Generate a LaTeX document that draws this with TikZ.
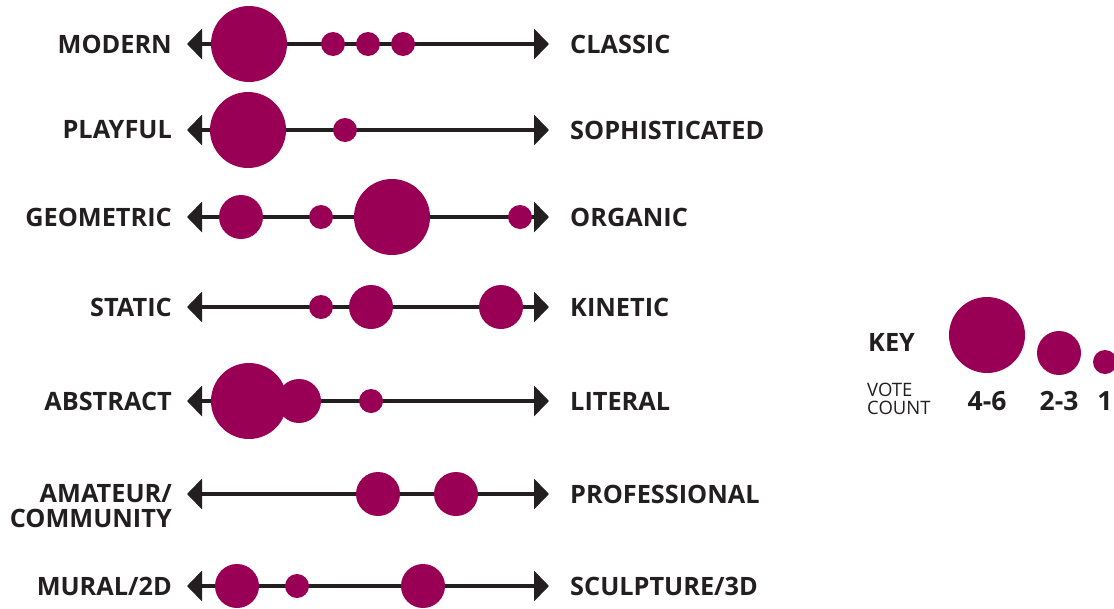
\documentclass[tikz,border=0pt]{standalone}
\usepackage{fontspec}
\setmainfont{Open Sans}
\usetikzlibrary{arrows.meta}
\definecolor{vote}{RGB}{153,0,85}
\definecolor{axis}{RGB}{35,31,32}

\begin{document}
\begin{tikzpicture}[x=1pt,y=-1pt,
    scale line/.style={draw=axis,line width=4pt,{Triangle[width=30pt,length=15pt]}-{Triangle[width=30pt,length=15pt]}},
    votebig/.style={circle,fill=vote,inner sep=0pt,minimum size=76pt},
    votemid/.style={circle,fill=vote,inner sep=0pt,minimum size=44pt},
    votelow/.style={circle,fill=vote,inner sep=0pt,minimum size=24pt},
    leftlbl/.style={anchor=east,inner sep=0pt,align=right,text=axis,font=\fontsize{25.3}{25}\selectfont\bfseries},
    rightlbl/.style={anchor=west,inner sep=0pt,text=axis,font=\fontsize{25.3}{25}\selectfont\bfseries},
    keylbl/.style={inner sep=0pt,text=axis,font=\fontsize{26.5}{25}\selectfont\bfseries}]
		\useasboundingbox (0,0) rectangle (1114,608);

		% modern / classic
		\node[leftlbl] (modern) at (172,44) {MODERN};
		\node[rightlbl] (classic) at (570,44) {CLASSIC};
		\coordinate (l1) at (187,44);
		\coordinate (r1) at (549,44);
		\draw[scale line] (l1) -- (r1);
		\node[votebig] (m1a) at (249,44) {};
		\node[votelow] (m1b) at (333,44) {};
		\node[votelow] (m1c) at (368,44) {};
		\node[votelow] (m1d) at (403,44) {};

		% playful / sophisticated
		\node[leftlbl] (playful) at (172,130) {PLAYFUL};
		\node[rightlbl] (sophis) at (570,130) {SOPHISTICATED};
		\coordinate (l2) at (187,130);
		\coordinate (r2) at (549,130);
		\draw[scale line] (l2) -- (r2);
		\node[votebig] (m2a) at (248,130) {};
		\node[votelow] (m2b) at (345,130) {};

		% geometric / organic
		\node[leftlbl] (geom) at (172,217) {GEOMETRIC};
		\node[rightlbl] (organic) at (570,217) {ORGANIC};
		\coordinate (l3) at (187,217);
		\coordinate (r3) at (549,217);
		\draw[scale line] (l3) -- (r3);
		\node[votemid] (m3a) at (241,217) {};
		\node[votelow] (m3b) at (321,217) {};
		\node[votebig] (m3c) at (392,217) {};
		\node[votelow] (m3d) at (520,217) {};

		% static / kinetic
		\node[leftlbl] (static) at (172,307) {STATIC};
		\node[rightlbl] (kinetic) at (570,307) {KINETIC};
		\coordinate (l4) at (187,307);
		\coordinate (r4) at (549,307);
		\draw[scale line] (l4) -- (r4);
		\node[votelow] (m4a) at (321,307) {};
		\node[votemid] (m4b) at (371,307) {};
		\node[votemid] (m4c) at (501,307) {};

		% abstract / literal
		\node[leftlbl] (abstract) at (172,401) {ABSTRACT};
		\node[rightlbl] (literal) at (570,401) {LITERAL};
		\coordinate (l5) at (187,401);
		\coordinate (r5) at (549,401);
		\draw[scale line] (l5) -- (r5);
		\node[votebig] (m5a) at (249,401) {};
		\node[votemid] (m5b) at (299,401) {};
		\node[votelow] (m5c) at (371,401) {};

		% amateur / professional
		\node[leftlbl] (amateur) at (172,506) {AMATEUR/\\COMMUNITY};
		\node[rightlbl] (prof) at (570,494) {PROFESSIONAL};
		\coordinate (l6) at (187,494);
		\coordinate (r6) at (549,494);
		\draw[scale line] (l6) -- (r6);
		\node[votemid] (m6a) at (378,494) {};
		\node[votemid] (m6b) at (456,494) {};

		% mural / sculpture
		\node[leftlbl] (mural) at (172,586) {MURAL/2D};
		\node[rightlbl] (sculpt) at (570,586) {SCULPTURE/3D};
		\coordinate (l7) at (187,586);
		\coordinate (r7) at (549,586);
		\draw[scale line] (l7) -- (r7);
		\node[votemid] (m7a) at (237,586) {};
		\node[votelow] (m7b) at (297,586) {};
		\node[votemid] (m7c) at (423,586) {};

		% key
		\node[keylbl,font=\fontsize{25.3}{25}\selectfont\bfseries,anchor=west] (key) at (868,342) {KEY};
		\node[anchor=west,inner sep=0pt,align=left,text=axis,font=\fontsize{18.5}{18}\selectfont] (count) at (867,399) {VOTE\\COUNT};
		\node[votebig] (k1) at (987,335) {};
		\node[votemid] (k2) at (1059,353) {};
		\node[votelow] (k3) at (1105,362) {};
		\node[keylbl] (k1lbl) at (987,401) {4-6};
		\node[keylbl] (k2lbl) at (1059,401) {2-3};
		\node[keylbl] (k3lbl) at (1105,401) {1};
\end{tikzpicture}
\end{document}
